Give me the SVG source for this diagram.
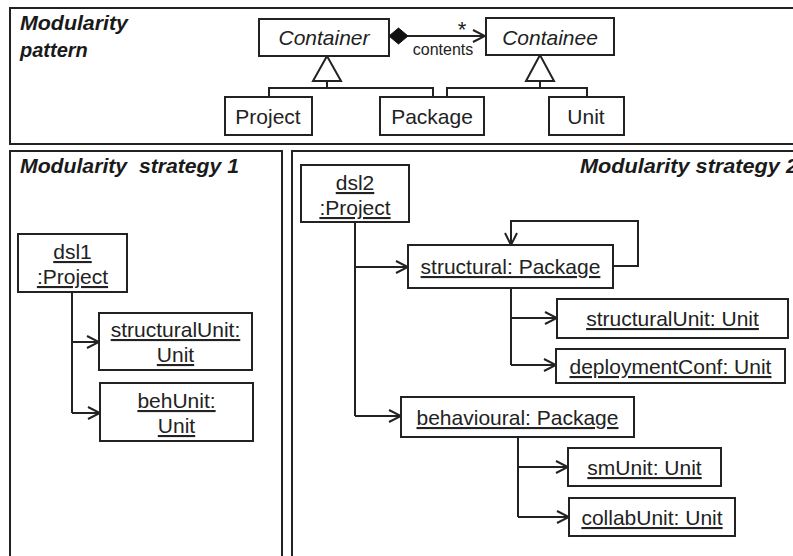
<svg xmlns="http://www.w3.org/2000/svg" width="793" height="556" viewBox="0 0 793 556">
<style>
  .frame{fill:none;stroke:#222;stroke-width:2}
  .box{fill:#fff;stroke:#222;stroke-width:2}
  .ln{fill:none;stroke:#222;stroke-width:2}
  .arr{fill:none;stroke:#222;stroke-width:2;marker-end:url(#open)}
  .t{font-family:"Liberation Sans",Arial,sans-serif;font-size:21px;fill:#222;text-anchor:middle}
  .u{text-decoration:underline}
  .i{font-style:italic}
  .title{font-family:"Liberation Sans",Arial,sans-serif;font-size:20px;font-weight:bold;font-style:italic;fill:#1a1a1a}
  .small{font-family:"Liberation Sans",Arial,sans-serif;font-size:16px;fill:#222}
  .star{font-family:"Liberation Sans",Arial,sans-serif;font-size:22px;fill:#222}
</style>
<defs>
  <marker id="open" viewBox="0 0 14 14" refX="13" refY="7" markerWidth="14" markerHeight="14" orient="auto" markerUnits="userSpaceOnUse">
    <path d="M1,1 L13,7 L1,13" fill="none" stroke="#222" stroke-width="2"/>
  </marker>
</defs>
<rect width="793" height="556" fill="#fff"/>

<g id="frames">
  <rect class="frame" x="10" y="8" width="800" height="136"/>
  <rect class="frame" x="10" y="151" width="272" height="420"/>
  <rect class="frame" x="292" y="151" width="520" height="420"/>
  <text class="title" x="20" y="30" textLength="108" lengthAdjust="spacingAndGlyphs">Modularity</text>
  <text class="title" x="20" y="57">pattern</text>
  <text class="title" x="20" y="173" textLength="219" lengthAdjust="spacingAndGlyphs" xml:space="preserve">Modularity  strategy 1</text>
  <text class="title" x="580" y="173" textLength="218" lengthAdjust="spacingAndGlyphs">Modularity strategy 2</text>
</g>

<g id="connectors">
  <polygon points="327,56 313,81 341,81" fill="#fff" stroke="#222" stroke-width="2"/>
  <path class="ln" d="M327,81 V88 M269,97 V88 H433 V97"/>
  <polygon points="540,55 526,81 554,81" fill="#fff" stroke="#222" stroke-width="2"/>
  <path class="ln" d="M540,81 V88 M447,97 V88 H587 V97"/>
  <polygon points="389,36 398.5,28 408,36 398.5,44" fill="#111" stroke="#111" stroke-width="1"/>
  <path class="arr" d="M408,36 H485"/>
  <text class="star" x="462" y="37" text-anchor="middle">*</text>
  <text class="small" x="443" y="55" text-anchor="middle">contents</text>

  <path class="ln" d="M72,292 V413"/>
  <path class="arr" d="M72,342 H99"/>
  <path class="arr" d="M72,413 H100"/>

  <path class="ln" d="M355,222 V416"/>
  <path class="arr" d="M355,267 H408"/>
  <path class="arr" d="M355,416 H401"/>
  <path class="arr" d="M613,266 H638 V221 H511 V245"/>
  <path class="ln" d="M511,288 V365"/>
  <path class="arr" d="M511,318 H557"/>
  <path class="arr" d="M511,365 H556"/>
  <path class="ln" d="M518,437 V517"/>
  <path class="arr" d="M518,467 H568"/>
  <path class="arr" d="M518,517 H569"/>
</g>

<g id="container"><rect class="box" x="259" y="19" width="130" height="37"/><text class="t i" x="324" y="45">Container</text></g>
<g id="containee"><rect class="box" x="486" y="18" width="128" height="37"/><text class="t i" x="550" y="45">Containee</text></g>
<g id="project"><rect class="box" x="225" y="97" width="87" height="38"/><text class="t" x="268" y="124">Project</text></g>
<g id="package"><rect class="box" x="380" y="97" width="104" height="38"/><text class="t" x="432" y="124">Package</text></g>
<g id="unit"><rect class="box" x="549" y="97" width="75" height="38"/><text class="t" x="586" y="124">Unit</text></g>

<g id="dsl1"><rect class="box" x="18" y="234" width="109" height="58"/><text class="t u" x="72.5" y="259">dsl1</text><text class="t u" x="72.5" y="284">:Project</text></g>
<g id="s1-structuralUnit"><rect class="box" x="99" y="313" width="153" height="57"/><text class="t u" x="175.5" y="337">structuralUnit:</text><text class="t u" x="175.5" y="362">Unit</text></g>
<g id="s1-behUnit"><rect class="box" x="100" y="383" width="153" height="58"/><text class="t u" x="176.5" y="408">behUnit:</text><text class="t u" x="176.5" y="433">Unit</text></g>

<g id="dsl2"><rect class="box" x="301" y="165" width="108" height="57"/><text class="t u" x="355" y="190">dsl2</text><text class="t u" x="355" y="215">:Project</text></g>
<g id="structural"><rect class="box" x="408" y="245" width="205" height="43"/><text class="t u" x="510.5" y="274">structural: Package</text></g>
<g id="s2-structuralUnit"><rect class="box" x="557" y="299" width="231" height="39"/><text class="t u" x="672.5" y="326">structuralUnit: Unit</text></g>
<g id="deploymentConf"><rect class="box" x="556" y="349" width="229" height="34"/><text class="t u" x="670.5" y="374">deploymentConf: Unit</text></g>
<g id="behavioural"><rect class="box" x="401" y="397" width="233" height="40"/><text class="t u" x="517.5" y="425">behavioural: Package</text></g>
<g id="smUnit"><rect class="box" x="568" y="448" width="153" height="38"/><text class="t u" x="644.5" y="475">smUnit: Unit</text></g>
<g id="collabUnit"><rect class="box" x="569" y="498" width="166" height="38"/><text class="t u" x="652" y="525">collabUnit: Unit</text></g>
</svg>
